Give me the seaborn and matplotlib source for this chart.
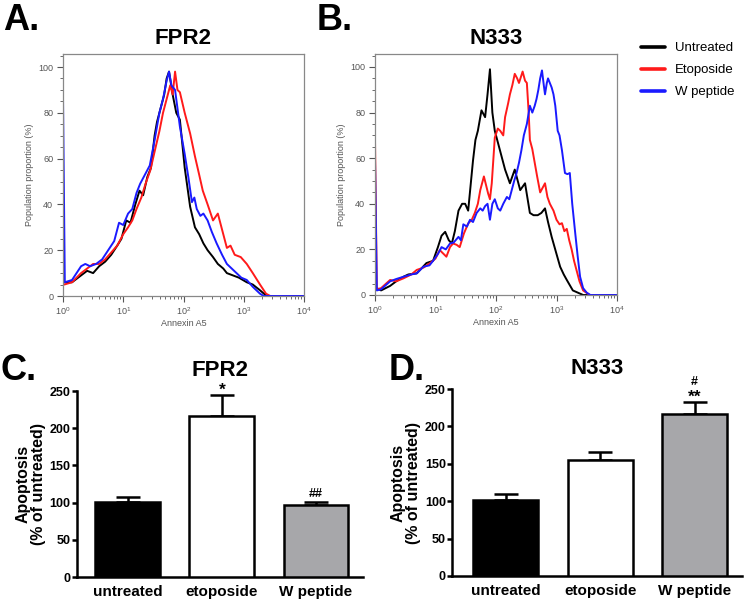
import numpy as np
import pandas as pd
import matplotlib
matplotlib.use("Agg")
import matplotlib.pyplot as plt
import seaborn as sns
from matplotlib.ticker import LogLocator, MultipleLocator, NullFormatter
from matplotlib.lines import Line2D

sns.set_theme(style="ticks")
plt.rcParams['font.family'] = ['Liberation Sans', 'DejaVu Sans']
plt.rcParams['text.color'] = 'black'
plt.rcParams['axes.labelcolor'] = 'black'
plt.rcParams['xtick.color'] = 'black'
plt.rcParams['ytick.color'] = 'black'

### histogram data: (log10 Annexin A5, population proportion %)
groups = ['Untreated', 'Etoposide', 'W peptide']
line_colors = ['black', '#ff1a1a', '#1a1aff']

fpr2_untreated = [(0.02, 6), (0.15, 6), (0.30, 9), (0.40, 11), (0.50, 10), (0.60, 13), (0.70, 15),
                  (0.80, 18), (0.90, 22), (0.97, 25), (1.05, 33), (1.12, 32), (1.20, 40), (1.27, 46),
                  (1.33, 44), (1.40, 52), (1.46, 56), (1.52, 70), (1.56, 76), (1.62, 82), (1.68, 88),
                  (1.72, 95), (1.76, 98), (1.82, 88), (1.88, 80), (1.94, 77), (2.02, 56), (2.11, 39),
                  (2.19, 30), (2.26, 27), (2.33, 23), (2.40, 20), (2.49, 17), (2.57, 14), (2.66, 12),
                  (2.72, 10), (2.82, 9), (2.92, 8), (3.05, 6), (3.15, 5), (3.27, 2.5), (3.38, 0), (4.0, 0)]
fpr2_etoposide = [(0.02, 5), (0.15, 6), (0.30, 10), (0.40, 12), (0.50, 14), (0.60, 14), (0.70, 16),
                  (0.80, 19), (0.90, 22), (1.00, 27), (1.08, 30), (1.15, 33), (1.22, 38), (1.30, 43),
                  (1.37, 49), (1.45, 55), (1.52, 63), (1.60, 72), (1.66, 80), (1.72, 86), (1.78, 92),
                  (1.82, 88), (1.86, 98), (1.90, 90), (1.94, 89), (2.02, 80), (2.11, 71), (2.19, 61),
                  (2.26, 53), (2.32, 46), (2.40, 40), (2.49, 33), (2.57, 36), (2.63, 30), (2.72, 21),
                  (2.78, 22), (2.85, 18), (2.95, 17), (3.05, 14), (3.15, 10), (3.27, 5), (3.37, 1),
                  (3.44, 0), (4.0, 0)]
fpr2_wpeptide = [(0.0, 0), (0.0, 87), (0.03, 6), (0.15, 7), (0.30, 13), (0.37, 14), (0.45, 13),
                 (0.55, 14), (0.65, 16), (0.75, 20), (0.85, 24), (0.93, 32), (1.00, 31), (1.08, 36),
                 (1.15, 38), (1.22, 45), (1.28, 49), (1.36, 53), (1.44, 57), (1.52, 68), (1.60, 80),
                 (1.66, 86), (1.72, 94), (1.76, 98), (1.80, 92), (1.86, 90), (1.94, 74), (2.02, 62),
                 (2.08, 52), (2.14, 41), (2.18, 43), (2.22, 38), (2.28, 35), (2.33, 36), (2.40, 33),
                 (2.47, 28), (2.55, 23), (2.64, 18), (2.72, 14), (2.80, 12), (2.88, 10), (2.96, 8),
                 (3.05, 7), (3.15, 4), (3.27, 1), (3.33, 0), (4.0, 0)]

n333_untreated = [(0.03, 3), (0.10, 2), (0.25, 4), (0.35, 6), (0.47, 8), (0.55, 9), (0.69, 9.5),
                  (0.78, 12), (0.85, 14), (0.96, 15), (1.04, 21), (1.10, 26), (1.16, 27.7), (1.22, 24),
                  (1.27, 22.6), (1.32, 28), (1.38, 37), (1.44, 40), (1.49, 40), (1.54, 37), (1.58, 48),
                  (1.62, 59), (1.66, 68), (1.70, 72), (1.76, 81), (1.82, 78), (1.86, 88), (1.90, 99),
                  (1.94, 80), (1.98, 72), (2.07, 63), (2.15, 55), (2.23, 49), (2.31, 55), (2.40, 46),
                  (2.48, 49), (2.56, 36), (2.62, 35), (2.69, 35), (2.75, 36), (2.81, 38), (2.86, 32),
                  (2.92, 25.5), (3.00, 18), (3.06, 12.4), (3.12, 9), (3.17, 6.6), (3.27, 2), (3.44, 0),
                  (4.0, 0)]
n333_etoposide = [(0.0, 0), (0.0, 68), (0.03, 2.5), (0.10, 3), (0.25, 6.6), (0.35, 6), (0.47, 7.3),
                  (0.60, 9), (0.69, 11), (0.80, 12), (0.91, 14), (1.00, 16), (1.07, 19.7), (1.18, 16.8),
                  (1.24, 21), (1.29, 22.6), (1.35, 22), (1.40, 21), (1.47, 27), (1.54, 31.4), (1.60, 33),
                  (1.65, 36), (1.70, 40), (1.74, 46), (1.80, 52), (1.87, 44.5), (1.90, 42), (1.93, 49),
                  (1.98, 69), (2.03, 73), (2.07, 72), (2.12, 70), (2.15, 78), (2.20, 84), (2.23, 88),
                  (2.27, 92), (2.31, 97), (2.35, 95), (2.38, 93), (2.44, 98), (2.48, 94), (2.51, 93),
                  (2.54, 80), (2.56, 68), (2.60, 64), (2.64, 58), (2.68, 52), (2.73, 45), (2.77, 47),
                  (2.81, 49), (2.85, 43), (2.89, 40), (2.95, 37), (3.00, 33), (3.05, 31), (3.09, 31.5),
                  (3.13, 28), (3.17, 29), (3.21, 24), (3.25, 20), (3.29, 15), (3.33, 11), (3.38, 6),
                  (3.44, 2), (3.55, 0), (4.0, 0)]
n333_wpeptide = [(0.0, 0), (0.0, 60), (0.03, 2), (0.10, 2.5), (0.25, 6), (0.35, 7), (0.47, 8),
                 (0.60, 9), (0.69, 9.5), (0.80, 12.4), (0.90, 13), (0.96, 15), (1.04, 18), (1.10, 21),
                 (1.17, 20), (1.24, 22.6), (1.30, 23), (1.38, 25.5), (1.42, 24), (1.46, 31), (1.52, 30),
                 (1.57, 33), (1.62, 32), (1.68, 36), (1.74, 38), (1.78, 37), (1.82, 39), (1.86, 40),
                 (1.90, 33), (1.94, 40), (1.98, 42), (2.03, 38), (2.07, 37), (2.12, 40), (2.18, 43),
                 (2.22, 42), (2.26, 46), (2.30, 50), (2.34, 53.5), (2.38, 58), (2.42, 63.5), (2.46, 70),
                 (2.51, 75), (2.56, 83), (2.60, 80), (2.64, 83), (2.67, 86), (2.70, 90), (2.73, 95),
                 (2.76, 98.5), (2.79, 92), (2.81, 88), (2.84, 93), (2.86, 95), (2.89, 93), (2.92, 91),
                 (2.95, 88), (2.98, 83), (3.02, 72), (3.05, 70), (3.09, 63.5), (3.14, 53.5), (3.18, 53),
                 (3.22, 53.5), (3.26, 40), (3.31, 27), (3.35, 17), (3.39, 8), (3.44, 3), (3.50, 1),
                 (3.56, 0), (4.0, 0)]

### bar data
bar_labels = ['untreated', 'etoposide', 'W peptide']
bar_colors = ['black', 'white', '#a6a6aa']
fpr2_mean = [101, 216, 97]
fpr2_sem = [6, 29, 4]
fpr2_stars = ['', '*', '']
fpr2_hashes = ['', '', '##']
n333_mean = [101, 155, 217]
n333_sem = [8, 11, 16]
n333_stars = ['', '', '**']
n333_hashes = ['', '', '#']


def hist_frame(curves):
    rows = []
    for name, pts in zip(groups, curves):
        for lx, y in pts:
            rows.append({'Annexin A5': 10 ** lx, 'pct': y, 'group': name})
    return pd.DataFrame(rows)


fig = plt.figure(figsize=(7.45, 6.01), dpi=100)
W, H = 745, 601

def add_ax(l, t, r, b):
    return fig.add_axes([l / W, 1 - b / H, (r - l) / W, (b - t) / H])

ax_a = add_ax(63, 54, 304, 296)
ax_b = add_ax(375, 54, 617, 295)
ax_c = add_ax(77, 391, 363, 577)
ax_d = add_ax(452, 389, 742, 576)

grey = '#555555'
for ax, curves, title in [(ax_a, [fpr2_untreated, fpr2_etoposide, fpr2_wpeptide], 'FPR2'),
                          (ax_b, [n333_untreated, n333_etoposide, n333_wpeptide], 'N333')]:
    df = hist_frame(curves)
    sns.lineplot(data=df, x='Annexin A5', y='pct', hue='group', palette=line_colors,
                 estimator=None, linewidth=1.4, ax=ax, legend=False)
    ax.set_xscale('log')
    ax.set_xlim(1, 1e4)
    ax.set_ylim(0, 105.7)
    ax.yaxis.set_major_locator(MultipleLocator(20))
    ax.yaxis.set_minor_locator(MultipleLocator(5))
    ax.xaxis.set_major_locator(LogLocator(base=10))
    ax.xaxis.set_minor_locator(LogLocator(base=10, subs=np.arange(2, 10)))
    ax.xaxis.set_minor_formatter(NullFormatter())
    ax.tick_params(which='major', length=4, width=0.8, color=grey, labelsize=6.5,
                   labelcolor=grey, pad=3)
    ax.tick_params(which='minor', length=2.5, width=0.6, color=grey)
    for s in ax.spines.values():
        s.set_color('#888888')
        s.set_linewidth(0.9)
    ax.set_xlabel('Annexin A5', fontsize=6.5, color=grey, labelpad=1)
    ax.set_ylabel('Population proportion (%)', fontsize=6.5, color=grey, labelpad=3)
    ax.set_title(title, fontsize=16, fontweight='bold', pad=7)

handles = [Line2D([], [], color=c, lw=2.6) for c in line_colors]
ax_b.legend(handles, groups, loc='upper left', bbox_to_anchor=(641 / W, 1 - 42 / H),
            bbox_transform=fig.transFigure, frameon=False, fontsize=9.5, handlelength=1.8,
            handletextpad=0.8, labelspacing=0.75, borderpad=0, borderaxespad=0)

for ax, means, sems, stars, hashes, title, left, hash_off in [
        (ax_c, fpr2_mean, fpr2_sem, fpr2_stars, fpr2_hashes, 'FPR2', -0.54, 3.5),
        (ax_d, n333_mean, n333_sem, n333_stars, n333_hashes, 'N333', -0.57, 12)]:
    sns.barplot(x=bar_labels, y=means, hue=bar_labels, palette=bar_colors, edgecolor='black',
                linewidth=1.8, width=0.69, legend=False, ax=ax, zorder=3)
    pos = np.arange(len(bar_labels))
    ax.errorbar(pos, means, yerr=[np.zeros(len(sems)), sems], fmt='none', ecolor='black',
                elinewidth=1.8, capsize=8.5, capthick=1.8, zorder=2)
    for i in pos:
        top = means[i] + sems[i]
        if stars[i]:
            ax.annotate(stars[i], (i, top), xytext=(0, 0), textcoords='offset points',
                        ha='center', va='baseline', fontsize=12.5, fontweight='bold',
                        annotation_clip=False)
        if hashes[i]:
            ax.annotate(hashes[i], (i, top), xytext=(0, hash_off), textcoords='offset points',
                        ha='center', va='baseline', fontsize=9, fontweight='bold',
                        annotation_clip=False)
    ax.set_xlim(left, 2.5)
    ax.set_ylim(0, 250)
    ax.set_yticks(range(0, 251, 50))
    sns.despine(ax=ax)
    for s in ['left', 'bottom']:
        ax.spines[s].set_linewidth(1.8)
        ax.spines[s].set_color('black')
    ax.tick_params(axis='y', length=3.5, width=1.8, labelsize=9, pad=1)
    ax.tick_params(axis='x', length=0, labelsize=11, pad=6)
    for lab in ax.get_yticklabels() + ax.get_xticklabels():
        lab.set_fontweight('bold')
    ax.set_ylabel('Apoptosis\n(% of untreated)', fontsize=11.5, fontweight='bold', labelpad=3,
                  linespacing=1.0)
    ax.set_title(title, fontsize=16, fontweight='bold', pad=11)

for txt, x, y in [('A.', 3, 20), ('B.', 317, 20), ('C.', 1, 370), ('D.', 389, 370)]:
    fig.text(x / W, 1 - y / H, txt, fontsize=26, fontweight='bold', ha='left', va='center')

fig.savefig('out.png', dpi=100)
